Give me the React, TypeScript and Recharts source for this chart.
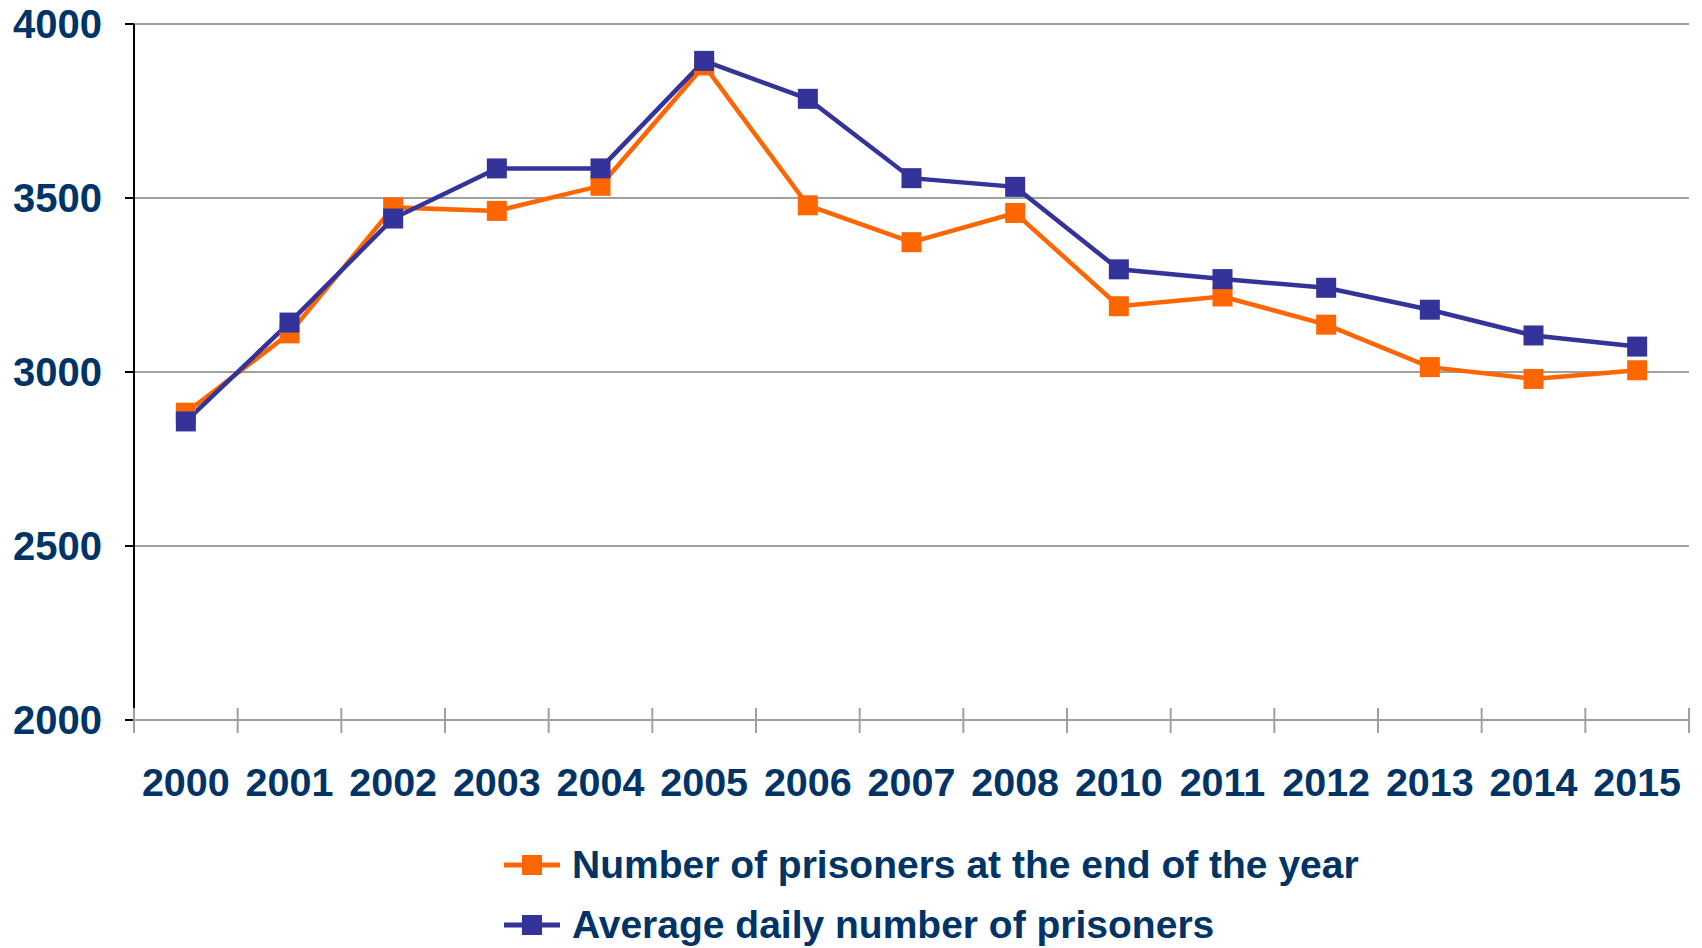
import React from "react";
import { LineChart, Line, XAxis, YAxis, CartesianGrid, Legend } from "recharts";

const years = [
  "2000", "2001", "2002", "2003", "2004", "2005", "2006", "2007",
  "2008", "2010", "2011", "2012", "2013", "2014", "2015",
];
// number of prisoners at the end of the year
const endOfYear = [2883, 3111, 3473, 3463, 3535, 3881, 3479, 3373, 3457, 3189, 3217, 3136, 3014, 2980, 3005];
// average daily number of prisoners
const dailyAverage = [2858, 3142, 3441, 3585, 3585, 3894, 3785, 3557, 3532, 3295, 3267, 3242, 3179, 3105, 3073];
const yTicks = [2000, 2500, 3000, 3500, 4000];

const seriesNames = {
  endOfYear: "Number of prisoners at the end of the year",
  dailyAverage: "Average daily number of prisoners",
};

const ORANGE = "#FF6600";
const BLUE = "#333399";
const NAVY = "#003366";
const GRID = "#a0a0a0";
const FONT = '"Liberation Sans", Arial, sans-serif';

const W = 1702;
const H = 948;
const MARGIN = { top: 24, right: 13, bottom: 0, left: 0 };
const Y_AXIS_W = 134;

const data = years.map((year, i) => ({
  year,
  endOfYear: endOfYear[i],
  dailyAverage: dailyAverage[i],
}));

const squareDot = (color: string) => (p: any) => (
  <rect key={`${color}-${p.index}`} x={p.cx - 10} y={p.cy - 10} width={20} height={20} fill={color} />
);

function YearTick(props: any) {
  const { x, y, payload, index } = props;
  const fallback = (W - MARGIN.right - Y_AXIS_W) / years.length / 2;
  const half = payload.offset || fallback;
  return (
    <g>
      <line x1={x - half} x2={x - half} y1={y - 12} y2={y + 13} stroke={GRID} strokeWidth={2} />
      {index === years.length - 1 && (
        <line x1={x + half} x2={x + half} y1={y - 12} y2={y + 13} stroke={GRID} strokeWidth={2} />
      )}
      <text
        x={x}
        y={y + 62}
        textAnchor="middle"
        dominantBaseline="central"
        fill={NAVY}
        fontFamily={FONT}
        fontWeight="bold"
        fontSize={39.5}
      >
        {payload.value}
      </text>
    </g>
  );
}

function LegendIcon({ color }: { color: string }) {
  return (
    <svg width={56} height={24} style={{ display: "block" }}>
      <line x1={0} x2={56} y1={12} y2={12} stroke={color} strokeWidth={5} />
      <rect x={18} y={2} width={20} height={20} fill={color} />
    </svg>
  );
}

function ChartLegend() {
  const rows = [
    { color: ORANGE, label: seriesNames.endOfYear, top: 45 },
    { color: BLUE, label: seriesNames.dailyAverage, top: 105 },
  ];
  return (
    <div style={{ position: "relative", width: W, height: 128 }}>
      {rows.map((r) => (
        <div
          key={r.label}
          style={{
            position: "absolute",
            left: 504,
            top: r.top - 24,
            height: 48,
            display: "flex",
            alignItems: "center",
            whiteSpace: "nowrap",
          }}
        >
          <LegendIcon color={r.color} />
          <span
            style={{
              marginLeft: 12,
              color: NAVY,
              fontFamily: FONT,
              fontWeight: "bold",
              fontSize: 39,
              lineHeight: "48px",
            }}
          >
            {r.label}
          </span>
        </div>
      ))}
    </div>
  );
}

export default function App() {
  return (
    <div style={{ position: "absolute", left: 0, top: 0, width: W, height: H, background: "#fff" }}>
      <LineChart width={W} height={H} data={data} margin={MARGIN}>
        <CartesianGrid vertical={false} stroke={GRID} strokeWidth={2} />
        <XAxis
          dataKey="year"
          scale="band"
          interval={0}
          height={100}
          tickSize={0}
          tickMargin={0}
          tickLine={false}
          axisLine={{ stroke: GRID, strokeWidth: 2 }}
          tick={<YearTick />}
        />
        <YAxis
          domain={[2000, 4000]}
          ticks={yTicks}
          width={Y_AXIS_W}
          tickSize={9}
          tickMargin={23}
          axisLine={{ stroke: "#000", strokeWidth: 2 }}
          tickLine={{ stroke: "#000", strokeWidth: 2 }}
          tick={{ fill: NAVY, fontFamily: FONT, fontWeight: "bold", fontSize: 40 }}
        />
        <YAxis
          yAxisId="frame"
          orientation="right"
          width={0}
          tick={false}
          tickLine={false}
          axisLine={{ stroke: GRID, strokeWidth: 2 }}
        />
        <Legend
          verticalAlign="bottom"
          height={128}
          wrapperStyle={{ left: 0, bottom: 0, width: W, height: 128 }}
          content={() => <ChartLegend />}
        />
        <Line
          dataKey="endOfYear"
          name={seriesNames.endOfYear}
          stroke={ORANGE}
          strokeWidth={4.5}
          dot={squareDot(ORANGE)}
          activeDot={false}
          isAnimationActive={false}
        />
        <Line
          dataKey="dailyAverage"
          name={seriesNames.dailyAverage}
          stroke={BLUE}
          strokeWidth={4.5}
          dot={squareDot(BLUE)}
          activeDot={false}
          isAnimationActive={false}
        />
      </LineChart>
    </div>
  );
}
